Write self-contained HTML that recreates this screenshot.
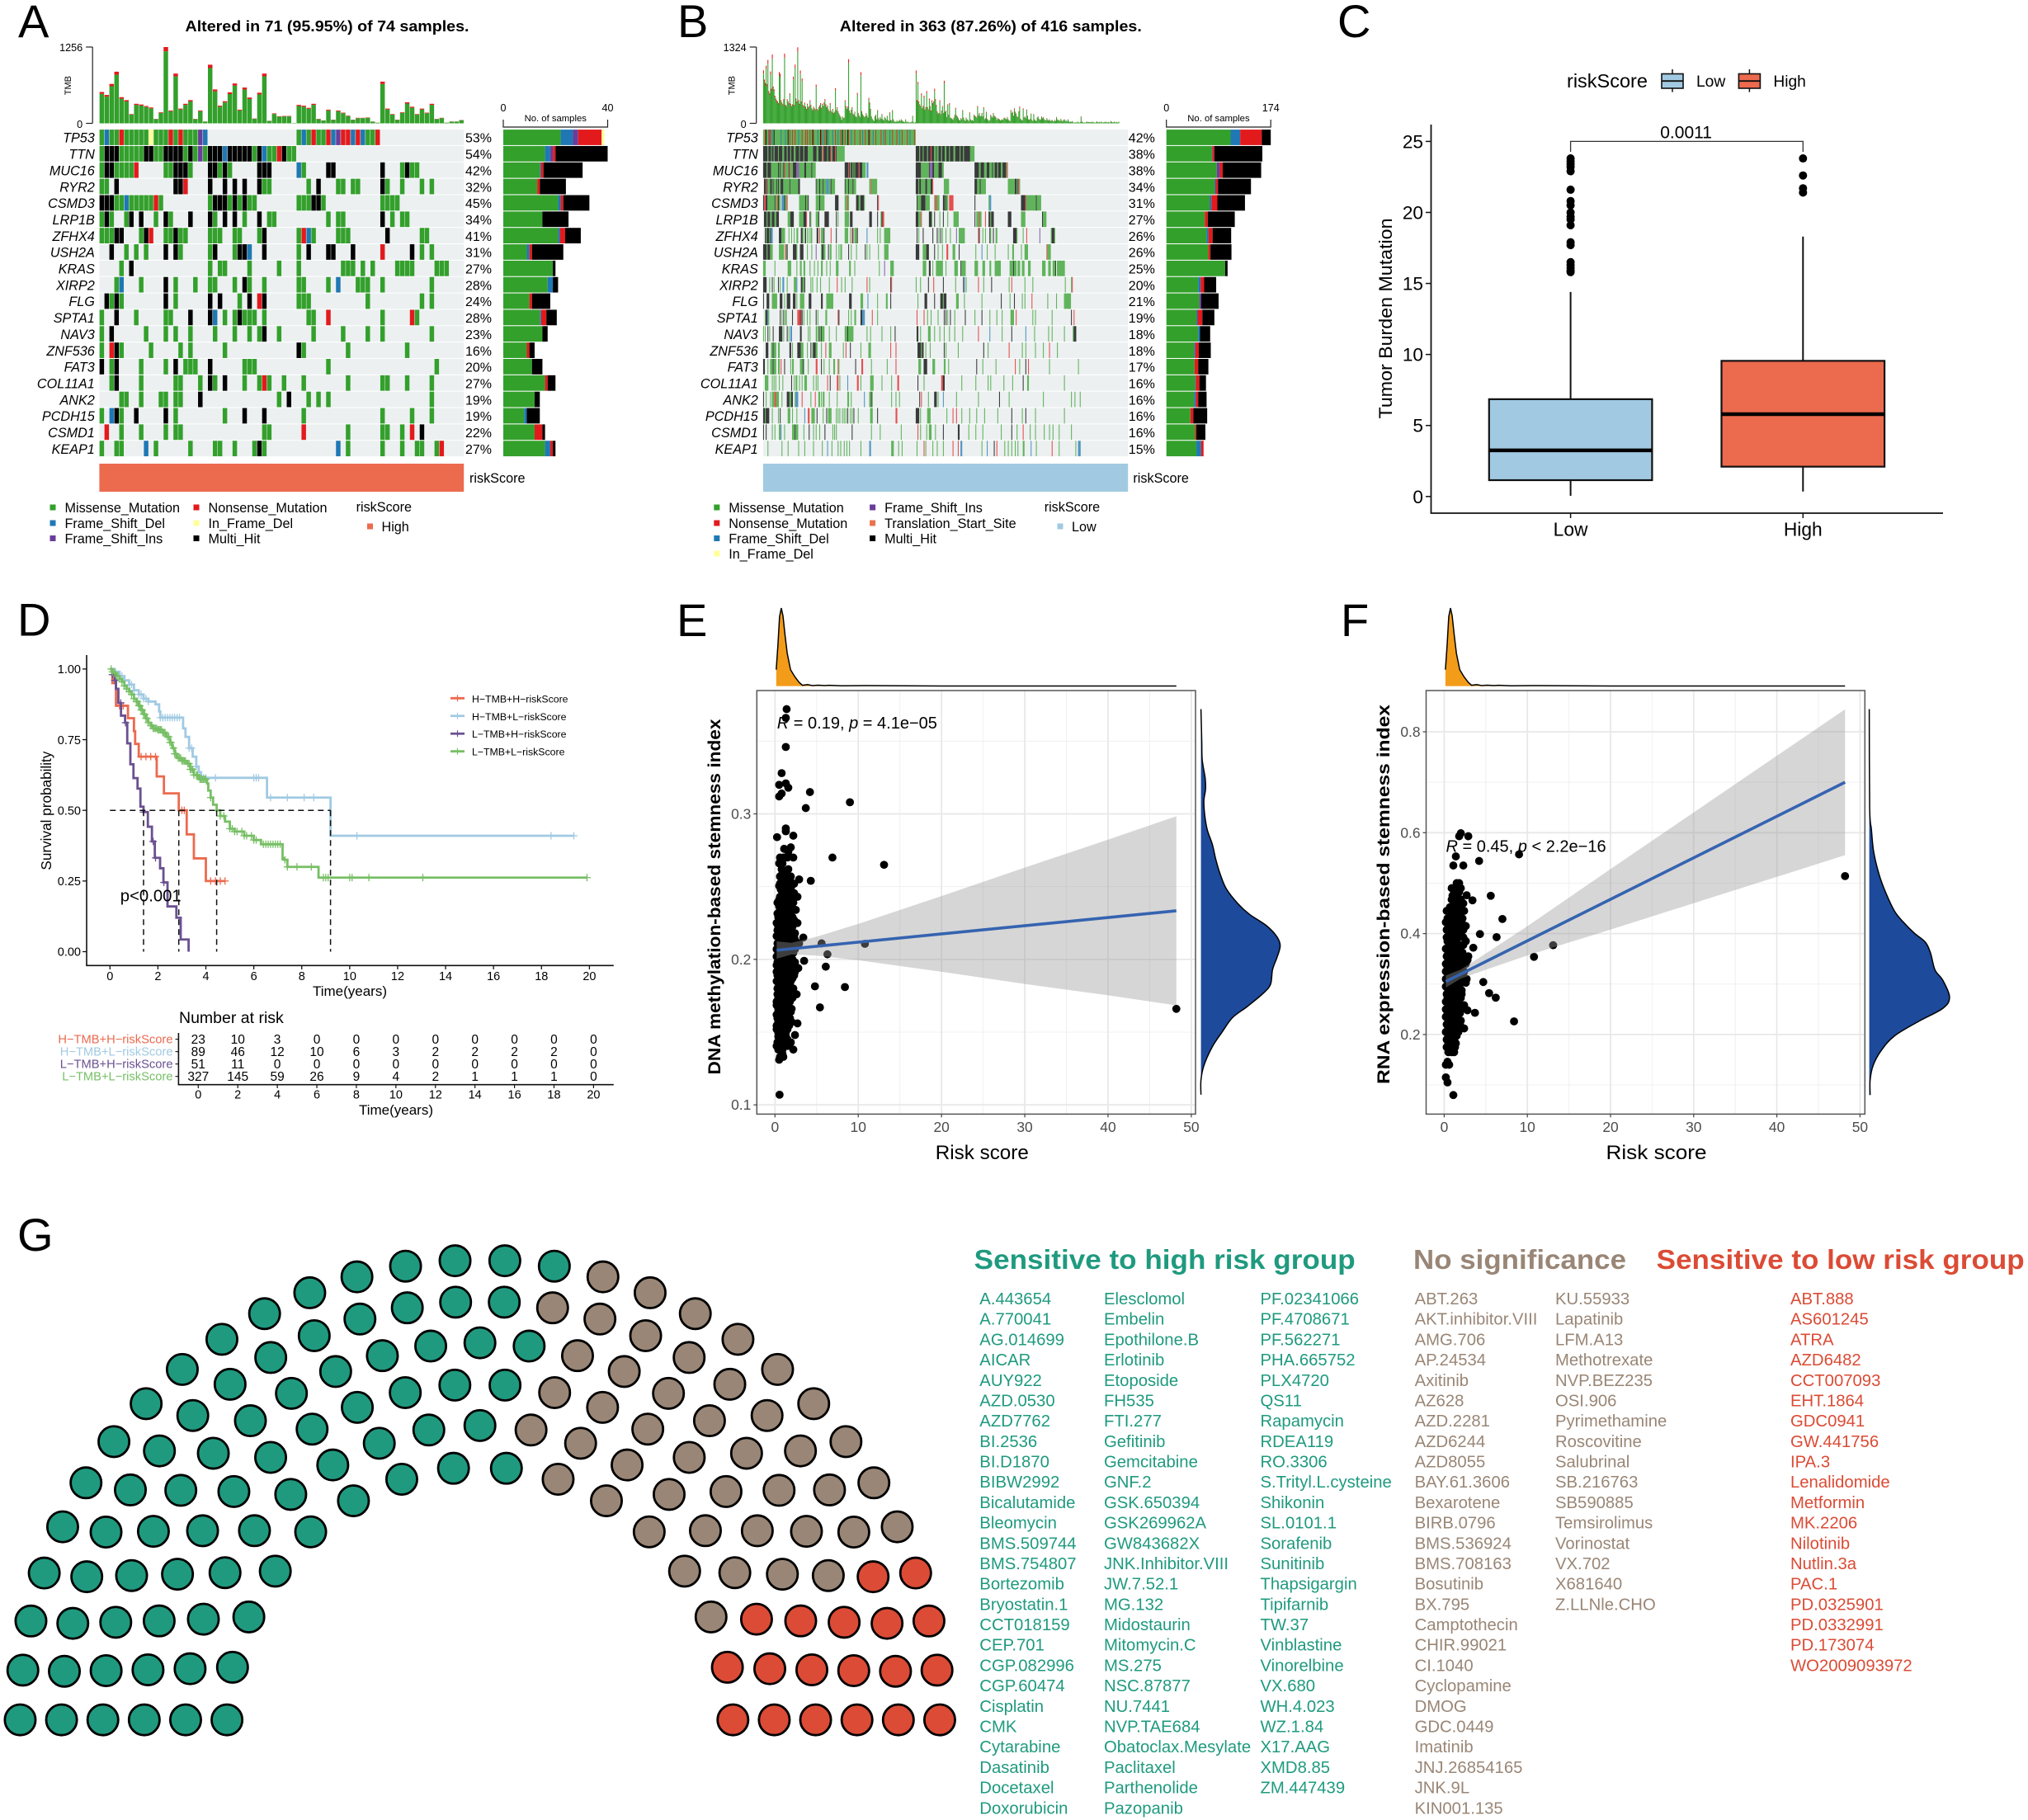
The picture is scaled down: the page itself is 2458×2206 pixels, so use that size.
<!DOCTYPE html>
<html lang="en">
<head>
<meta charset="utf-8">
<title>Tumor mutation burden and drug sensitivity figure</title>
<style>
html,body{margin:0;padding:0;background:#fff}
svg{display:block;font-family:"Liberation Sans",Arial,sans-serif}
</style>
</head>
<body>
<svg id="fig" xmlns="http://www.w3.org/2000/svg" width="2458" height="2206" viewBox="0 0 2458 2206">
<rect width="2458" height="2206" fill="#fff"/>
<g id="pA"></g>
<g id="pB"></g>
<g id="pC"></g>
<g id="pD"></g>
<g id="pE"></g>
<g id="pF"></g>
<g id="pG"></g>
</svg>
<script>
/* ---------- shared data ---------- */
const genes = ["TP53","TTN","MUC16","RYR2","CSMD3","LRP1B","ZFHX4","USH2A","KRAS","XIRP2","FLG","SPTA1","NAV3","ZNF536","FAT3","COL11A1","ANK2","PCDH15","CSMD1","KEAP1"];
const mutationColors = {M:"#33A02C",D:"#1F78B4",I:"#6A3D9A",N:"#E31A1C",F:"#FFFF99",T:"#E8734E",H:"#000000"};

/* ---------- panel A data ---------- */
const aPercent = [53,54,42,32,45,34,41,31,27,28,24,28,23,16,20,27,19,19,22,27];
const aRows = [
"M0 D1 M2-3 N4 M5-9 F10 M11-13 N14 M15 N16 M17-19 I20 D21 M40 D41 M42 N43 M44-45 N46 D47 I48 N49-50 D51 N52 D53 M54-55 N56",
"M0 H1-3 M4-8 H9-10 M11-12 H13-16 M17 H18 M19 I20 M21 H22-24 D25 H26-30 M31 H32 D33 M34-35 N36 H37 M38-39",
"M0 H1-2 M3-6 N7 M13-14 H15-17 M18 H22-23 M24 H25 M26 H32-34 D40 M41 H46-47 H57 M61 H62 M63-64",
"M0-1 H3 H15-16 N17 H22 H25 H27 H29 H32 M33-34 M42 H44 M48-49 M51-52 H57 M58 M61 M65 M67",
"H0-2 M3-4 D5 M6-10 N11 M12 M22 H23-25 M26 H27 M28 H29 M30-31 M40-42 H43-44 M45 M57-60",
"M0 H1 M2 M5 H6 H8 M11 H13 M14 H18 H22 M23 H25 H27 M29 H32 M34-35 M46 M48-49 H57 M59 M61-62",
"M0-2 H3-4 M8 H9 N10 M13-14 H15 M16-17 M22-24 M27-28 M32 H33 M40 N41 D42 M43 M48-50 H58 M65-66",
"H2 M5 M7 M9 H13 H15 M16 M22 H23 M27 H28-29 D30 H33 M40 H42 H46-47 H51 N57 H63 M65 M67",
"M4 H6 M22 M24-25 M30 M36 M40 M49-51 M53 M55 M60-63 M68-70",
"M3 D4 M8 H13 M15 M19 M22-23 M27 H29 M30 M33 M40-41 M46 D48 M52-54 M57 M67",
"H1 M2 H3 M4 H13 M15 H22 H24 M28 H30 N32 H33 M40-42 M54 M65 M67",
"M0 H3 M7 M13-14 H18 H22 D23 M25 M27 H28 M29-31 M33 M42-43 N46 M57 N63 M64",
"M0 H2 M9 M13 M15 M18 M23 M27 M30 M32 H33 M36 M43 M49 M54 M57 M67",
"M0 N2 H3 M4 M10 M16 M18 M25 H40 M41 M50 M62",
"H0 M2 H3 M8 M13 H15 M17-19 H22 M29-31 M46 M68",
"M2 H3 M8 M15-16 M20 H22 M23 H25 M29 M32 N33 M34 M37 M41 M50 M57-58 M62 M67",
"M4-5 M8 M12-13 M15-16 H20 M36 H38 M42 M44 M46 M67",
"M0 D2 H3 M4 H7 H13 M15 M25 H29 H33 M41 M57 M63 M67",
"N1 M4 M8 M13 M15-16 M33-34 N41 M50 M57-58 M61 N63 H65",
"M0 M3-4 D9 M11 M18 M23-24 M27 M31 H32 M33 D48 M50 M57 M61 M64-65 M68 N69"
];
const aTmb = [516,467,649,850,431,382,152,322,310,285,261,73,182,1256,212,819,243,322,382,73,212,30,965,558,291,364,510,656,225,589,425,79,504,819,42,164,115,121,121,6,303,291,255,322,73,49,225,61,212,176,127,61,91,91,97,30,12,686,243,152,61,182,346,273,152,243,176,322,73,91,12,30,30,55];
const aTmbNonsense = [30,28,38,50,25,22,9,18,18,16,15,4,10,70,12,46,14,18,22,4,12,2,55,32,17,20,28,36,13,33,24,5,28,46,2,10,6,7,7,0,18,17,15,18,4,3,13,4,12,10,7,4,6,5,6,2,1,38,14,9,4,10,20,16,9,14,10,18,4,5,1,2,2,3];
const aBarMissense = [22,16,14,13,21,15,21,9,19,17,10,14,15,9,11,16,12,8,12,16];
const aBarDel = [4.7,2,0.4,0,1,0,0.7,1,0,2,0,0.5,0,0,0,0,0,1,0,2];
const aBarIns = [2,1,0,0,0,0,0,0,0,0,0,0,0,0,0,0,0,0,0,0];
const aBarNonsense = [9,1,1,1,1,0,2,1,0,0,1,2,0,1,0,1,0,0,3,1];
const aBarInFrame = [1,0,0,0,0,0,0,0,0,0,0,0,0,0,0,0,0,0,0,0];
const aBarMulti = [0,20,15,10,10,10,6,12,1,2,7,4,2,2,4,3,2,5,1,1];

/* ---------- panel B data ---------- */
const bPercent = [42,38,38,34,31,27,26,26,25,20,21,19,18,18,17,16,16,16,16,15];
const bRows = [
"M0-173 N2 H3 N6 I7 N8 D10 H12 D20 D25 H28 N30 N33 N36 D40 N44 N48 N50 N53 H56 N57 D62 H65 N66 D68 N70 H72 D74 D79 N82 D85 N88 H90 N93 H96 N97 D100 N104 N110 D113 N116 H120 N121 D125 N128 N134 D137 N139 D144 N147 N152 D155 N158 N164 D167 N172",
"H0-4 M5 H6-8 M9 H10-11 M12 H13-16 M17 H18-21 M22-23 H24-26 M27 H28-30 M31 H32-34 M35-36 H37-40 M41 H42-45 M46 H47-50 M51-56 H57-60 M61-62 H63-66 M67 N68 H69-72 M73 H74-76 N77 M78 H79-81 N82 H83 M84-92 H174-177 M178 H179-181 M182 H183-186 M187 H188-190 N191 H192-194 M195-196 H197 M198-199 H200-202 M203 H204-206 M207-208 H209-211 M212 H213-216 M217-218 H219-223 M224 H225-227 M228 H229-235 M236-240",
"H0-3 M4 H5-8 M9-16 H17 M18 H19 M20-22 H23 N24 M25-28 H29 N30 M31-33 H34-37 I38-40 M41-46 H47-48 M49-54 H55 M56-59 H93-96 N97 H98 M99 H100-101 M102 H103 M104 H105-108 N109 H110-112 M113-116 D118-119 H174-179 M180-188 H189 I190-192 H193-194 M195-199 H200-203 M204-205 H241-245 M246-247 H248-251 M252-254 H255-257 M258-260 H261 M262-263 H264-266 M267 H268-270 M271-272 H273-276 M277 N278",
"H1-2 N3 H4 M5-7 H8-9 M10 H11 M12-14 H15 M16 H17 M18-19 H20-22 M23-29 H30 M31-39 H40-41 H60 M61-63 H64 M65-67 H68 M69-71 D72-74 M75-76 H77 M78-81 H93 M94-96 H97 M98-101 H102 M103-105 M121-122 N123 M124-129 H174-176 M177 H178-179 M180-184 H185-186 M187-190 H191-192 N193 M206-211 H241-243 M244-246 H247 M248-253 M279-286 H287-288 M289 H290 N291 M292",
"H0 N1-2 H3-4 M5-12 H13 M14-15 N16 H17 M18-19 D21-23 H24 M25-26 N27 M41-47 H48 M49-50 H51 M60-63 H64 M65-69 H82-85 M93-95 N96 M97 H106-108 M109-110 H111-114 M115 H130 N131 H175 M176-179 H180-184 M185-189 M195 N196-197 M198-200 H205-206 M207 H208 M209-210 N212-216 H241 M257 D258-259 H294-298 N299 M300-310 H311 M312-316",
"H1-3 M4 H5-7 M8-9 H10-12 M13-14 H15-17 M28-30 H31-34 M41-45 H46-48 N49 H53 M54 M60-62 H63 H70-74 H83 M85 M93-97 H99-101 H121-123 H130 M134 H135 N136-137 H174-176 M177-179 N180 H189-191 M192 H195 M201 H205 M210 M217-222 H241 M243-245 N246 M247-248 N253 H257-258 M259 H260-262 H279-282 M294-298 H318 M319-322",
"H2 M3 H4-6 M7 H8 D9-10 H18-20 M21-24 M29 M32 M35 M38-39 H43-44 M45 M47 H48 M50 M52 M54-55 H61-62 N64 M66-68 H69 N77 H83 M93-96 M99 N101 H102 M104-106 H107 D118 M130 M133 M138-144 H175 M177 H182 H193 H198 M200 H202 M204 M208 M213 I220 M223-229 N245 H246 M250 M253 H258 M259 H262 M265-266 H285-288 M289 M296 N300 I315 M328 H329-331 M332",
"H0-3 M4 H5-7 M8-10 M18-23 N25 M26 H27 H34-37 M38 H42-45 M50 M55 I60 M66 H67-68 M69-70 H74 M76-77 M83 M86 M88-89 H97 M100 M106 H116 M118 M121 M131 M138-142 H174-177 M182-185 H186-188 H195 M199 M204 N209-210 M216-218 H223 M242 D249 M255 M264 M279 M284-285 M294 M298-301 N323 M324-327",
"M0-2 M13 M28-31 M38 M42-43 M46-47 M53 M58 M62 M66-67 M72 M76 M83-85 M98-99 M104 M132 I138 M145-148 M182-185 H189-190 M193 M197-204 M208 M218-221 H225 M226-230 M241-244 M250-252 M258-259 M264-270 M281-284 H285 M286-288 M290-292 M295-297 M302-304 M318-321 M325-327 M330-332 H333 M335-343",
"H0-3 M7 H10 M12 H17 M19 D22-23 M27 M35-37 D38 H43-44 M45-46 H47 M54 M56 M61 M65 M75 N84 M89 M93 M101 N118 M121 H145 N146 M174 M179 H188 N194 H205 M219 H228 D229 M231 N245 M251 H260 M280 N283 M298 M307 M344 M351 N352",
"H0 H4-6 M10-15 H19-21 M24 H27-30 H34-36 M38 M42-46 H52-54 H66-67 M72-79 H98-100 M111-113 D119 M130 M140-141 H145 M176 H184-186 H195 H202-204 M205 H206-208 M220-222 M229 M249 H271 M281 H286 M295 M298 N306 M324 M334 M343-350",
"M2 H3-4 D5 M6 H19 M21 H23 M25-26 H33 N39-41 H42 N43 H44 M46 M50 M53 H60 M62 M71-72 N85 H86 M97 M100 M104-105 H111-112 D113-115 N124 M130 N175 N183 M187 M191 M199 H206 H208 M210 H213 M218 H230 M241 H249 M258 M266 M272 M282-285 N288 M307 M310 M329 H351 N354",
"M0 M2 H5 M7 H11 H18-21 M23 H27 M29 D31-32 H42-43 M51 M53 M60-61 H63 M64-65 H66 M67-69 M75 M83 M93-95 H96 M97-102 M118 M122 M135 M145 H150 H175-176 M179 M188-190 M195 M201 M206 M212 M218 M227 N245 D258 M272 H283 D299 M309 M325 M329 M343 M353 H354-356",
"H3-5 M9-10 H11 M12-14 M17-18 H30-31 M33 H39-42 M43-45 M50 H54 M56 H57-59 M60-61 M66 N71 M75-77 M91 N94 H99 M111 M120-122 N145 N151 H176-179 M180 H181-182 M185 M190 H206 M208 M222 H251 M256 N280 M295 M299 M310 M319 N326 M335",
"H0-1 M5 M8-10 H11 M12-14 M17-18 N20 H24 M31 M33-34 M42-44 H45 M46 M51 N60-61 H66 M69 M75 M80-81 N85 M86 H105 N112-113 M123 M141 N151 M177-179 H183-186 M193-195 M206-207 M211 H243 M250 M265 N287 M292 H299 N302 M326 M359",
"M2-5 M10 M12 M14 M18 M22 H32 M35 M37-38 M41 M44 M47-49 M57 M60 M62 N73 H76 N84-85 M87 D96 N107-108 M111 M122-125 M135 M146 N153-154 H176 M183 N203-204 H205-206 M226 M242 M256 M259 M274 M284 H296 M301-302 M343",
"H0 M3 M8 M10-12 N13-14 M15-17 M21 H27-29 M30-31 H32-33 M36 D37-39 N44 M54 N59 M63-64 M66 M68-69 M75 M84 M96-97 M100 D115 M121-122 H123 M124 M146 M151 M155 H178 N180 M188 H195-197 M199 D205 M220 M245 H269 M280 M319 M351 M355 M361",
"H0-1 M2 H3-6 M10 M17 H19 M28-30 M33 M38 D47 N51-52 M55-58 H61 M68 H72 M74-77 M83 M85 M87 M90 M92 M94 H96 M99 M101 H103 M108 M122-124 H130 N151-152 H174-177 M179 M187-190 M209 N216 N220 M226 M235 M243 M252 M267 H283 M295 H299 M310 M343",
"H0 H3 M10 M13 M18-19 D20 M24 M33-35 H36 M37-39 M46 H52 M57 M60 M64 H70 M79 M81 M83 H101 M123 M133 M157 N176 M179 M186 M189-191 M196 H205 H222-223 M234 M242 M250 M271 H283 M289 N296 M304 M310 M320 M326 M330 M337 M351",
"M5 M21 M28 M40 M47 M57 M67 D73 M78 M85 M88 M92 M95 M98 M111 D121-122 M146-148 M154 M158 M175 N183 M185 M193 M198 M205 N216 N222 D225-226 M249 D255 H263 N266 M275 M279 M283 M287 M290 M296-297 D305 M311 N329 M337 M356 D359-361"
];
const bTmb = [920,760,700,1000,680,1100,560,520,900,600,1195,640,590,480,430,400,380,350,890,860,400,360,330,420,1210,320,300,420,380,350,520,340,300,330,810,320,1020,430,380,1320,
400,340,917,380,778,320,300,360,290,250,340,280,300,400,320,260,230,290,260,240,672,250,230,280,310,350,270,340,300,360,420,330,280,310,240,210,350,220,190,250,
180,200,610,230,280,210,170,140,110,60,120,90,100,400,300,250,290,1113,220,180,240,280,170,150,200,120,110,528,180,140,110,888,210,160,130,110,120,180,140,100,
440,360,250,120,80,60,40,120,150,70,230,90,60,110,80,160,70,50,110,90,60,130,60,40,190,60,50,230,70,40,30,20,50,30,40,60,40,70,50,30,
30,20,70,30,20,30,10,20,15,30,130,20,10,20,
917,400,720,380,330,300,520,260,300,480,240,280,560,280,240,430,300,220,400,350,380,600,420,320,210,170,180,400,160,220,300,180,740,200,220,110,330,150,350,100,
90,80,60,100,150,270,140,120,90,60,50,90,70,230,100,60,40,100,70,60,40,190,70,50,60,40,150,130,120,100,300,140,180,120,130,180,120,280,70,90,
200,80,60,40,60,150,120,100,180,130,120,100,60,90,80,70,50,60,70,60,90,100,80,70,110,70,50,40,230,180,200,130,260,200,170,120,110,210,290,80,
60,50,260,100,120,90,240,130,70,60,80,170,60,40,160,70,50,40,100,120,80,60,70,120,90,110,70,60,50,90,60,50,70,40,
50,60,40,30,60,40,110,70,50,60,40,80,50,30,60,70,40,50,30,70,40,20,30,25,40,20,10,15,20,10,30,20,10,25,120,30,20,10,15,10,25,30,20,25,20,15,30,20,25,15,10,20,35,15,20,25,15,30,20,10,25,15,30,20,15,25,20,10,40,25,15,20,30,15,20,25,10,30];
const bTmbNonsenseShare = 0.06;
const bBarMissense = [107,76,84,81,72,64,67,70,98,53,55,50,53,46,47,48,46,40,48,50];
const bBarDel = [16,0,0,0,3,0,3,0,0,4,0,2,3,2,0,1,3,0,0,8];
const bBarIns = [0,1,5,2,0,0,0,0,0,0,3,0,0,0,0,0,0,0,0,0];
const bBarNonsense = [36,3,5,3,10,5,7,3.5,0,6,0,8,0,6,6,6,4,5,2,4];
const bBarInFrame = [0,0,0,0,0,0,0,0,0,0,0,0,0,0,0,0,0,0,0,0];
const bBarMulti = [15,80,64,55,46,45,31,35,4,20,29,20,17,20,17,11,14,23,15,0];

/* ---------- panel C data ---------- */
const boxGroups = ["Low","High"];
const boxQ1 = [1.15,2.1];
const boxMedian = [3.25,5.8];
const boxQ3 = [6.85,9.55];
const boxWhiskerLow = [0.05,0.35];
const boxWhiskerHigh = [14.4,18.3];
const boxOutliersLow = [23.8,23.6,23.4,23.2,22.9,21.6,20.8,20.5,20,19.7,19.5,19.1,17.9,17.7,16.5,16.3,16.1,15.9,15.8];
const boxOutliersHigh = [23.8,22.6,21.7,21.4];
const boxYTicks = [0,5,10,15,20,25];

/* ---------- panel D data ---------- */
const survNames = ["H\u2212TMB+H\u2212riskScore","H\u2212TMB+L\u2212riskScore","L\u2212TMB+H\u2212riskScore","L\u2212TMB+L\u2212riskScore"];
const hhTimes = [0,.1,.25,.75,1,1.05,1.2,1.95,2.25,2.87,3.2,3.5,4,4.8];
const hhSurv = [1,.95,.87,.826,.78,.735,.69,.62,.56,.5,.415,.33,.25,.25];
const hhCensor = [.4,.55,1.3,1.5,1.7,1.9,3,3.1,4.2,4.4,4.6,4.8];
const hlTimes = [0,.2,.4,.6,.8,1,1.2,1.4,1.6,1.9,2.05,2.1,3.05,3.15,3.3,3.45,3.6,3.7,3.8,6.55,9.2,19.35];
const hlSurv = [1,.99,.975,.96,.945,.925,.91,.895,.885,.875,.85,.828,.79,.76,.72,.69,.655,.635,.615,.545,.41,.41];
const hlCensor = [.4,.5,.6,.8,.9,1,1.2,1.3,1.4,1.5,1.6,2.1,2.2,2.3,2.4,2.5,2.6,2.7,2.8,2.9,3.3,3.4,3.6,3.9,4,4.4,6,6.1,6.2,6.7,7.4,8.1,8.5,10.3,18.4,19.35];
const lhTimes = [0,.1,.2,.25,.35,.46,.63,.72,.85,.98,1.15,1.27,1.4,1.58,1.75,1.87,2.09,2.23,2.4,2.77,2.95,3.28];
const lhSurv = [1,.98,.96,.93,.88,.835,.81,.737,.663,.614,.577,.513,.494,.442,.39,.332,.295,.245,.16,.12,.043,0];
const lhCensor = [.1,.2,.45,.65,1.4,1.8,1.9,2.25];
const llTimes = [0,.1,.2,.3,.4,.5,.6,.7,.8,.9,1,1.1,1.2,1.3,1.4,1.5,1.6,1.7,1.8,2,2.2,2.35,2.5,2.6,2.7,2.8,3,3.2,3.35,3.5,3.7,4.05,4.1,4.2,4.3,4.45,4.6,4.8,5,5.2,5.6,6,6.3,7.2,7.25,7.4,8.7,19.9];
const llSurv = [1,.99,.985,.975,.965,.955,.94,.93,.92,.91,.895,.885,.87,.855,.84,.825,.81,.8,.79,.785,.775,.76,.74,.72,.7,.685,.675,.665,.645,.625,.61,.595,.57,.545,.52,.5,.48,.46,.435,.425,.41,.395,.38,.33,.325,.3,.262,.262];
const llCensor = [.05,.1,.2,.3,.4,.5,.6,.7,.8,.9,1,1.1,1.15,1.2,1.25,1.3,1.35,1.4,1.45,1.5,1.55,1.6,1.7,1.75,1.8,1.85,1.9,1.95,2,2.05,2.1,2.15,2.2,2.25,2.3,2.4,2.45,2.5,2.55,2.65,2.7,2.75,2.85,2.9,2.95,3,3.05,3.1,3.15,3.25,3.3,3.35,3.4,3.45,3.5,3.6,3.65,3.75,3.8,3.85,3.9,3.95,4,4.2,4.45,4.6,4.75,5,5.1,5.2,5.3,5.5,5.6,5.7,5.9,6,6.1,6.4,6.5,6.6,6.7,6.8,6.9,7,7.1,7.3,7.4,7.8,8.4,8.9,9,9.1,10,10.1,10.8,13.05,19.9];
const survMedians = [1.4,2.87,4.45,9.2];
const survXTicks = [0,2,4,6,8,10,12,14,16,18,20];
const survYTicks = [0,.25,.5,.75,1];
const riskHH = [23,10,3,0,0,0,0,0,0,0,0];
const riskHL = [89,46,12,10,6,3,2,2,2,2,0];
const riskLH = [51,11,0,0,0,0,0,0,0,0,0];
const riskLL = [327,145,59,26,9,4,2,1,1,1,0];

/* ---------- panels E and F data ---------- */
const topDensityRisk = [.15,.35,.55,.76,.96,1.2,1.47,1.87,2.38,2.88,3.3,3.9,4.5,5.2,6,6.5,8,10.8,13.1,20,48.2];
const topDensityValue = [.21,.52,.89,1,.9,.66,.42,.21,.12,.05,.01,.02,.006,.012,.006,.01,.004,.006,.005,.001,.001];
const eOutliers = [[1.4,.372],[1.3,.366],[1.3,.346],[.8,.328],[.5,.32],[1.3,.321],[1.6,.318],[.8,.314],[.5,.312],[4.2,.315],[9,.308],[3.7,.304],[1.3,.29],[1.3,.288],[.25,.284],[2.2,.285],[1.1,.276],[1.9,.277],[1.6,.274],[6.9,.27],[13.1,.265],[2.2,.27],[4.3,.254],[2.9,.255],[3.4,.215],[5.6,.211],[10.8,.2107],[6.3,.2035],[3.5,.199],[6.1,.195],[4.8,.1815],[8.4,.181],[5.4,.167],[48.2,.166],[2.7,.156],[2.4,.148],[2.2,.138],[.55,.107],[.5,.131],[.9,.135]];
const eBlobRows = [[.27,[.6,1,1.5]],[.266,[.5,.9]],[.262,[.8,1.6]],[.257,[.6,1,1.4,1.9]],[.252,[.6,1.1,1.6,2.3]],[.248,[.7,1.3,1.9]],[.243,[.6,1,1.5,2,2.7]],[.239,[.3,.8,1.3,2.2]],[.234,[.6,1.1,1.7,2.5]],[.229,[.4,.9,1.5,2.1]],[.225,[.2,.7,1.2,1.8,2.7]],[.22,[.3,.8,1.4,2]],[.216,[.2,.7,1.1,1.6,2.3]],[.211,[.3,.9,1.4,2,2.9]],[.207,[.2,.6,1.1,1.7,2.4]],[.202,[.2,.7,1.3,1.9]],[.198,[.3,.8,1.2,1.7,2.4]],[.194,[.4,.9,1.5,2.1,2.8]],[.189,[.3,.7,1.2,1.8,2.3]],[.185,[.2,.8,1.3,1.9]],[.18,[.3,.7,1.1,1.6,2.2]],[.176,[.3,.9,1.4,1.9,2.6]],[.171,[.2,.7,1.2,1.8]],[.166,[.4,.9,1.3,2]],[.162,[.2,.6,1.1,1.6]],[.157,[.4,.9,1.5,2]],[.152,[.2,.6,1,1.5]],[.147,[.4,.9,1.3]],[.143,[.3,.8,1.4,1.9]],[.138,[.4,.9]],[.133,[.6,1]]];
const eBlobFillRows = [[.2595,[.9,1.3]],[.2545,[.8,1.3,1.8]],[.2505,[.5,1,1.5,2]],[.2455,[.9,1.3,1.8,2.3]],[.241,[.5,1,1.6,1.9]],[.2365,[.5,1,1.5,2]],[.2315,[.3,.8,1.3,1.9]],[.227,[.6,1.1,1.7,2.3]],[.2225,[.4,1,1.5,2.1]],[.218,[.5,1,1.7,2.4]],[.2135,[.5,1,1.7,2.4]],[.209,[.4,.8,1.4,2]],[.2045,[.4,.9,1.5,2.2]],[.2,[.5,1,1.5,2.1]],[.196,[.2,.6,1,1.4,2]],[.1915,[.2,.6,1,1.6,2.4]],[.187,[.5,1,1.5,2.1]],[.1825,[.5,.9,1.4,1.8]],[.178,[.5,1,1.3,1.9]],[.1735,[.4,1,1.5,2.1]],[.1685,[.2,.6,1.1,1.6]],[.164,[.4,.9,1.3,1.9]],[.1595,[.3,.8,1.3,1.8]],[.1545,[.2,.6,1.1,1.7]],[.1495,[.4,.8,1.3]],[.145,[.5,1,1.5]],[.1405,[.2,.6,1.1,1.5]]];
const eBandRisk = [.2,2,5,10,20,30,40,48.2];
const eBandUpper = [.2124,.2114,.2156,.2244,.2435,.2631,.2823,.2984];
const eBandLower = [.2004,.2034,.2026,.1994,.1915,.1831,.1753,.1684];
const eLineRisk = [.2,48.2];
const eLineIndex = [.2063,.2334];
const eRightIndex = [.372,.35,.337,.3246,.317,.309,.299,.289,.279,.269,.259,.2486,.2385,.231,.2233,.2157,.2094,.2018,.193,.1828,.1765,.1676,.16,.15,.14,.127,.117,.107];
const eRightDensity = [0,.01,.016,.053,.058,.037,.048,.08,.144,.186,.24,.319,.463,.612,.824,.957,1,.963,.904,.878,.782,.585,.399,.266,.144,.037,0,0];

const fOutliers = [[48.2,.514],[13.1,.377],[10.8,.354],[9,.557],[8.4,.226],[7,.429],[6.3,.393],[6.2,.273],[5.6,.475],[5.4,.282],[4.7,.304],[4.3,.399],[4.2,.544],[3.7,.243],[3.5,.372],[3.4,.466],[2.8,.248],[2.4,.258],[2.4,.212],[2.7,.476],[2.9,.593],[2,.599],[1.8,.593],[2.3,.535],[1.1,.535],[1.4,.553],[1.1,.08],[.4,.105],[.2,.115],[.2,.14],[.6,.14],[.4,.146]];
const fBlobRows = [[.5,[1.5,1.8]],[.49,[.9,1.3,2]],[.475,[1,1.6]],[.46,[1.2,1.8,2.3]],[.445,[.3,.9,1.5,2.4]],[.43,[.4,1,1.6,2.2]],[.415,[.5,1.1,1.8,2.6]],[.4,[.6,1.2,2]],[.385,[.4,.9,1.5,2.6]],[.37,[.2,.8,1.3,1.9]],[.355,[.3,.9,1.6,2.3,2.9]],[.34,[.2,.7,1.2,1.9,2.6]],[.325,[.2,.6,1.1,1.7,2.4]],[.31,[.2,.8,1.4,2,2.7]],[.295,[.2,.7,1.2,1.8]],[.28,[.3,.9,1.5,2.1]],[.265,[.2,.6,1.1,1.7]],[.25,[.2,.8,1.3,1.9]],[.235,[.2,.6,1.1,1.6]],[.22,[.3,.8,1.3,1.9]],[.205,[.2,.7,1.2,1.7]],[.19,[.3,.8,1.2]],[.175,[.3,.7,1,1.3]],[.165,[.5,.9,1.2]]];
const fBlobFillRows = [[.4825,[1.2,1.8]],[.4675,[.9,1.5,2]],[.4525,[.7,1.2,1.7]],[.4375,[.7,1.3,1.9]],[.4225,[.2,.8,1.4,2.1]],[.4075,[.3,.9,1.5,2.3]],[.3925,[.3,.9,1.6,2.3]],[.3775,[.6,1.2,1.8,2.3]],[.3625,[.5,1.1,1.6,2.2]],[.3475,[.5,1,1.6,2.2,2.8]],[.3325,[.4,.9,1.5,2.1]],[.3175,[.5,1.1,1.7,2.3]],[.3025,[.5,1,1.5,2.1,2.6]],[.2875,[.5,1,1.6,2.1]],[.2725,[.4,.9,1.4,2]],[.2575,[.5,1,1.6,2]],[.2425,[.4,1,1.5,1.9]],[.2275,[.5,1,1.5,2]],[.2125,[.5,1,1.5,2.1]],[.1975,[.5,1,1.5]],[.1825,[.5,1,1.4]]];
const fBandRisk = [.2,2,5,10,20,30,40,48.2];
const fBandUpper = [.317,.3288,.3605,.4147,.528,.6402,.7525,.8445];
const fBandLower = [.293,.3108,.3285,.3567,.408,.4602,.5125,.5555];
const fLineRisk = [.2,48.2];
const fLineIndex = [.305,.7];
const fRightIndex = [.845,.65,.606,.562,.518,.482,.445,.423,.401,.383,.361,.328,.307,.274,.252,.226,.197,.168,.139,.11,.08];
const fRightDensity = [0,.005,.027,.055,.121,.203,.313,.423,.56,.698,.764,.819,.918,1,.918,.615,.313,.148,.049,.011,.011];

/* ---------- panel G data ---------- */
const seatRowSizes = [16,19,22,25,28,30];
const seatGroupCounts = [77,44,19];
const groupColors = ["#1F9A7F","#998676","#DB4B35"];
const drugsHigh1 = ["A.443654","A.770041","AG.014699","AICAR","AUY922","AZD.0530","AZD7762","BI.2536","BI.D1870","BIBW2992","Bicalutamide","Bleomycin","BMS.509744","BMS.754807","Bortezomib","Bryostatin.1","CCT018159","CEP.701","CGP.082996","CGP.60474","Cisplatin","CMK","Cytarabine","Dasatinib","Docetaxel","Doxorubicin"];
const drugsHigh2 = ["Elesclomol","Embelin","Epothilone.B","Erlotinib","Etoposide","FH535","FTI.277","Gefitinib","Gemcitabine","GNF.2","GSK.650394","GSK269962A","GW843682X","JNK.Inhibitor.VIII","JW.7.52.1","MG.132","Midostaurin","Mitomycin.C","MS.275","NSC.87877","NU.7441","NVP.TAE684","Obatoclax.Mesylate","Paclitaxel","Parthenolide","Pazopanib"];
const drugsHigh3 = ["PF.02341066","PF.4708671","PF.562271","PHA.665752","PLX4720","QS11","Rapamycin","RDEA119","RO.3306","S.Trityl.L.cysteine","Shikonin","SL.0101.1","Sorafenib","Sunitinib","Thapsigargin","Tipifarnib","TW.37","Vinblastine","Vinorelbine","VX.680","WH.4.023","WZ.1.84","X17.AAG","XMD8.85","ZM.447439"];
const drugsNone1 = ["ABT.263","AKT.inhibitor.VIII","AMG.706","AP.24534","Axitinib","AZ628","AZD.2281","AZD6244","AZD8055","BAY.61.3606","Bexarotene","BIRB.0796","BMS.536924","BMS.708163","Bosutinib","BX.795","Camptothecin","CHIR.99021","CI.1040","Cyclopamine","DMOG","GDC.0449","Imatinib","JNJ.26854165","JNK.9L","KIN001.135"];
const drugsNone2 = ["KU.55933","Lapatinib","LFM.A13","Methotrexate","NVP.BEZ235","OSI.906","Pyrimethamine","Roscovitine","Salubrinal","SB.216763","SB590885","Temsirolimus","Vorinostat","VX.702","X681640","Z.LLNle.CHO"];
const drugsLow1 = ["ABT.888","AS601245","ATRA","AZD6482","CCT007093","EHT.1864","GDC0941","GW.441756","IPA.3","Lenalidomide","Metformin","MK.2206","Nilotinib","Nutlin.3a","PAC.1","PD.0325901","PD.0332991","PD.173074","WO2009093972"];

/* ---------- helpers ---------- */
const NS = "http://www.w3.org/2000/svg";
function el(parent, tag, attrs, name) {
  const e = document.createElementNS(NS, tag);
  for (const k in attrs) e.setAttribute(k, attrs[k]);
  
  
  parent.appendChild(e);
  return e;
}
function txt(parent, str, x, y, size, name, o) {
  o = o || {};
  const a = {x: x, y: y, "font-size": size, fill: o.fill || "#000"};
  if (o.anchor) a["text-anchor"] = o.anchor;
  if (o.bold) a["font-weight"] = "bold";
  if (o.italic) a["font-style"] = "italic";
  if (o.rotate !== undefined) a.transform = "rotate(" + o.rotate + " " + x + " " + y + ")";
  if (o.len) { a.textLength = o.len; a.lengthAdjust = "spacingAndGlyphs"; }
  const e = el(parent, "text", a, name);
  e.textContent = str;
  return e;
}
function line(parent, x1, y1, x2, y2, stroke, w, name, dash) {
  const a = {x1: x1, y1: y1, x2: x2, y2: y2, stroke: stroke, "stroke-width": w};
  if (dash) a["stroke-dasharray"] = dash;
  return el(parent, "line", a, name);
}
function linear(d0, d1, r0, r1) { return v => r0 + (v - d0) * (r1 - r0) / (d1 - d0); }
function parseTokens(s) {
  return s.split(/\s+/).filter(Boolean).map(t => {
    const parts = t.slice(1).split('-').map(Number);
    return {type: t[0], a: parts[0], b: parts.length > 1 ? parts[1] : parts[0]};
  });
}
function slug(s) { return s.toLowerCase().replace(/[^a-z0-9]+/g, '-').replace(/^-|-$/g, ''); }
function panelLetter(parent, s, x, y) {
  txt(parent, s, x, y, 56, "panel-letter-" + s.toLowerCase());
}
function smoothSegments(pts) {
  let d = "";
  for (let i = 0; i < pts.length - 1; i++) {
    const p0 = pts[Math.max(i - 1, 0)], p1 = pts[i], p2 = pts[i + 1], p3 = pts[Math.min(i + 2, pts.length - 1)];
    const c1x = p1[0] + (p2[0] - p0[0]) / 6, c1y = p1[1] + (p2[1] - p0[1]) / 6;
    const c2x = p2[0] - (p3[0] - p1[0]) / 6, c2y = p2[1] - (p3[1] - p1[1]) / 6;
    d += "C" + c1x + " " + c1y + " " + c2x + " " + c2y + " " + p2[0] + " " + p2[1];
  }
  return d;
}

/* ---------- oncoplot ---------- */
function drawOncoplot(p, c) {
  const rowY = i => 157.1 + i * 19.85, rowH = 18.8;
  const sx = linear(0, c.n, c.x0, c.x0 + c.w);
  const cell = c.w / c.n;
  const gap = c.n < 100 ? 0.5 : 0;
  txt(p, c.title, c.titleX, 38, 18, "oncoplot-title", {bold: true, len: c.titleLen});
  /* TMB */
  const ty = linear(0, c.tmbMax, 149.5, 57);
  line(p, c.axisX, 57, c.axisX, 149.5, "#222", 1.2, "tmb-axis-line");
  line(p, c.axisX - 8, 57, c.axisX, 57, "#222", 1.2, "tmb-axis-tick");
  line(p, c.axisX - 8, 149.5, c.axisX, 149.5, "#222", 1.2, "tmb-axis-tick");
  txt(p, String(c.tmbMax), c.axisX - 12, 62, 12.6, "tmb-tick-label", {anchor: "end"});
  txt(p, "0", c.axisX - 12, 155, 12.6, "tmb-tick-label", {anchor: "end"});
  txt(p, "TMB", c.axisX - 26, 103.6, 11, "tmb-axis-title", {anchor: "middle", rotate: -90});
  c.tmb.forEach((v, i) => {
    const red = c.tmbRed ? c.tmbRed[i] : v * c.tmbShare;
    el(p, "rect", {x: sx(i) + gap / 2, y: ty(v - red), width: cell - gap, height: ty(0) - ty(v - red), fill: mutationColors.M}, "tmb-bar");
    el(p, "rect", {x: sx(i) + gap / 2, y: ty(v), width: cell - gap, height: ty(v - red) - ty(v), fill: mutationColors.N}, "tmb-bar-nonsense");
  });
  /* matrix */
  genes.forEach((g, r) => {
    const y = rowY(r);
    el(p, "rect", {x: c.x0, y: y, width: c.w, height: rowH, fill: "#ECF0F1"}, "row-background-" + slug(g));
    parseTokens(c.rows[r]).forEach(t => {
      if (c.n < 100) {
        for (let i = t.a; i <= t.b; i++) {
          el(p, "rect", {x: sx(i) + gap / 2, y: y, width: cell - gap, height: rowH, fill: mutationColors[t.type]}, "mutation-cell");
        }
      } else {
        el(p, "rect", {x: sx(t.a), y: y, width: (t.b - t.a + 1) * cell, height: rowH, fill: mutationColors[t.type], "fill-opacity": c.cellOpacity}, "mutation-cell");
      }
    });
    txt(p, g, c.labelX, y + 15.6, 16.2, "gene-label-" + slug(g), {anchor: "end", italic: true});
    txt(p, c.pct[r] + "%", c.pctX, y + 15.6, 16, "percent-label", {});
    /* right stacked bars */
    const bx = linear(0, c.barMax, c.barX, c.barX + 126.5);
    let acc = 0;
    [["M", c.barM], ["D", c.barD], ["I", c.barI], ["N", c.barN], ["F", c.barF], ["H", c.barH]].forEach(pair => {
      const v = pair[1][r];
      if (v > 0) {
        el(p, "rect", {x: bx(acc), y: y, width: bx(acc + v) - bx(acc), height: rowH, fill: mutationColors[pair[0]]}, "sample-count-segment");
        acc += v;
      }
    });
  });
  /* right axis */
  const bx0 = c.barX, bx1 = c.barX + 126.5;
  txt(p, "0", bx0, 135, 12.6, "samples-axis-tick", {anchor: "middle"});
  txt(p, String(c.barMax), bx1, 135, 12.6, "samples-axis-tick", {anchor: "middle"});
  txt(p, "No. of samples", (bx0 + bx1) / 2, 147, 11.3, "samples-axis-title", {anchor: "middle"});
  el(p, "path", {d: "M" + bx0 + " 145V154H" + bx1 + "V145", fill: "none", stroke: "#222", "stroke-width": 1.2}, "samples-axis-bracket");
  /* annotation */
  el(p, "rect", {x: c.x0, y: 562, width: c.w, height: 34, fill: c.annColor}, "risk-score-annotation-bar");
  txt(p, "riskScore", c.annLabelX, 585, 16.2, "risk-score-annotation-label");
  /* legend */
  c.legend.forEach(item => {
    el(p, "rect", {x: item.x - 3.5, y: item.y - 3.5, width: 7, height: 7, fill: mutationColors[item.t]}, "legend-swatch");
    txt(p, item.s, item.x + 14.5, item.y + 5.8, 16.2, "legend-entry-" + slug(item.s));
  });
  txt(p, "riskScore", c.riskX, 620, 16.2, "legend-title");
  el(p, "rect", {x: c.riskSwatch - 3.5, y: 634.5, width: 7, height: 7, fill: c.annColor}, "legend-swatch");
  txt(p, c.riskName, c.riskSwatch + 14, 644, 16.2, "legend-entry-" + slug(c.riskName));
}
const pA = document.getElementById("pA");
panelLetter(pA, "A", 22, 45);
drawOncoplot(pA, {
  n: 74, x0: 120.4, w: 441.8, title: "Altered in 71 (95.95%) of 74 samples.", titleX: 224.5, titleLen: 344,
  tmb: aTmb, tmbRed: aTmbNonsense, tmbMax: 1256, axisX: 112.2, rows: aRows, labelX: 114.8, pct: aPercent, pctX: 564,
  barX: 610, barMax: 40, barM: aBarMissense, barD: aBarDel, barI: aBarIns, barN: aBarNonsense, barF: aBarInFrame, barH: aBarMulti,
  annColor: "#EC6A4E", annLabelX: 569, riskX: 431.6, riskSwatch: 448.5, riskName: "High",
  legend: [{t:"M",s:"Missense_Mutation",x:64,y:615},{t:"D",s:"Frame_Shift_Del",x:64,y:634},{t:"I",s:"Frame_Shift_Ins",x:64,y:652.5},
           {t:"N",s:"Nonsense_Mutation",x:238,y:615},{t:"F",s:"In_Frame_Del",x:238,y:634},{t:"H",s:"Multi_Hit",x:238,y:652.5}]
});
const pB = document.getElementById("pB");
panelLetter(pB, "B", 821, 45);
drawOncoplot(pB, {
  n: 416, x0: 924.9, w: 442.3, title: "Altered in 363 (87.26%) of 416 samples.", titleX: 1017.8, titleLen: 366,
  tmb: bTmb, tmbShare: bTmbNonsenseShare, tmbMax: 1324, axisX: 916.7, rows: bRows, labelX: 918.8, pct: bPercent, pctX: 1367.8, cellOpacity: 0.76,
  barX: 1413.7, barMax: 174, barM: bBarMissense, barD: bBarDel, barI: bBarIns, barN: bBarNonsense, barF: bBarInFrame, barH: bBarMulti,
  annColor: "#A1CAE2", annLabelX: 1373.4, riskX: 1265.7, riskSwatch: 1285, riskName: "Low",
  legend: [{t:"M",s:"Missense_Mutation",x:868.8,y:615},{t:"N",s:"Nonsense_Mutation",x:868.8,y:634},{t:"D",s:"Frame_Shift_Del",x:868.8,y:652.5},{t:"F",s:"In_Frame_Del",x:868.8,y:671},
           {t:"I",s:"Frame_Shift_Ins",x:1057.6,y:615},{t:"T",s:"Translation_Start_Site",x:1057.6,y:634},{t:"H",s:"Multi_Hit",x:1057.6,y:652.5}]
});

/* ---------- panel C ---------- */
(function () {
  const p = document.getElementById("pC");
  panelLetter(p, "C", 1621, 45);
  const y = linear(0, 25, 601.8, 171.4);
  const x = i => [1903.6, 2185.3][i];
  const half = 98.8;
  const fills = ["#A1CAE2", "#EC6A4E"];
  const outliers = [boxOutliersLow, boxOutliersHigh];
  txt(p, "riskScore", 1899, 106, 23.5, "legend-title");
  [[2014, "Low"], [2107.4, "High"]].forEach((k, i) => {
    line(p, k[0] + 13, 84, k[0] + 13, 111.6, "#111", 1.5, "legend-key-whisker");
    el(p, "rect", {x: k[0], y: 89.5, width: 26, height: 17.5, fill: fills[i], stroke: "#111", "stroke-width": 1.6}, "legend-key-box");
    line(p, k[0], 98.2, k[0] + 26, 98.2, "#111", 1.8, "legend-key-median");
    txt(p, k[1], k[0] + 42, 105, 19.2, "legend-entry-" + k[1].toLowerCase());
  });
  line(p, 1734.5, 151, 1734.5, 622, "#111", 1.8, "y-axis-line");
  line(p, 1733.6, 622, 2355, 622, "#111", 1.8, "x-axis-line");
  boxYTicks.forEach(t => {
    line(p, 1728, y(t), 1734.5, y(t), "#111", 1.5, "y-axis-tick");
    txt(p, String(t), 1725, y(t) + 8, 22.6, "y-tick-label", {anchor: "end"});
  });
  txt(p, "Tumor Burden Mutation", 1687, 386, 22.5, "y-axis-title", {anchor: "middle", rotate: -90, len: 243});
  boxGroups.forEach((g, i) => {
    line(p, x(i), y(boxWhiskerLow[i]), x(i), y(boxQ1[i]), "#111", 2, "box-whisker-lower-" + slug(g));
    line(p, x(i), y(boxQ3[i]), x(i), y(boxWhiskerHigh[i]), "#111", 2, "box-whisker-upper-" + slug(g));
    el(p, "rect", {x: x(i) - half, y: y(boxQ3[i]), width: half * 2, height: y(boxQ1[i]) - y(boxQ3[i]), fill: fills[i], stroke: "#111", "stroke-width": 2.2}, "box-" + slug(g));
    line(p, x(i) - half, y(boxMedian[i]), x(i) + half, y(boxMedian[i]), "#000", 4.5, "box-median-" + slug(g));
    outliers[i].forEach(v => el(p, "circle", {cx: x(i), cy: y(v), r: 5, fill: "#000"}, "box-outlier-" + slug(g)));
    line(p, x(i), 622, x(i), 628, "#111", 1.5, "x-axis-tick");
    txt(p, g, x(i), 649.6, 22.8, "x-tick-label-" + slug(g), {anchor: "middle"});
  });
  el(p, "path", {d: "M" + x(0) + " 184V171.4H" + x(1) + "V184", fill: "none", stroke: "#333", "stroke-width": 1.3}, "significance-bracket");
  txt(p, "0.0011", 2043.6, 167.4, 21, "significance-p-value", {anchor: "middle"});
})();

/* ---------- panel D ---------- */
(function () {
  const p = document.getElementById("pD");
  panelLetter(p, "D", 21, 770.5);
  const x = linear(0, 20, 133.3, 714.4);
  const y = linear(0, 1, 1153.5, 810.9);
  const colors = ["#EC6A4E", "#A1CAE2", "#6A5090", "#77BF65"];
  const series = [[hhTimes, hhSurv, hhCensor], [hlTimes, hlSurv, hlCensor], [lhTimes, lhSurv, lhCensor], [llTimes, llSurv, llCensor]];
  line(p, 105, 794, 105, 1170.3, "#111", 1.6, "y-axis-line");
  line(p, 104.2, 1170.3, 743.8, 1170.3, "#111", 1.6, "x-axis-line");
  survYTicks.forEach(t => {
    line(p, 100, y(t), 105, y(t), "#111", 1.3, "y-axis-tick");
    txt(p, t.toFixed(2), 98, y(t) + 5.2, 14.5, "y-tick-label", {anchor: "end"});
  });
  survXTicks.forEach(t => {
    line(p, x(t), 1170.3, x(t), 1175, "#111", 1.3, "x-axis-tick");
    txt(p, String(t), x(t), 1188, 14.5, "x-tick-label", {anchor: "middle"});
  });
  txt(p, "Survival probability", 62, 982.6, 17.6, "y-axis-title", {anchor: "middle", rotate: -90, len: 144});
  txt(p, "Time(years)", 424, 1207, 17, "x-axis-title", {anchor: "middle"});
  series.forEach((s, k) => {
    let d = "M" + x(s[0][0]) + " " + y(s[1][0]);
    for (let i = 1; i < s[0].length; i++) d += "H" + x(s[0][i]) + "V" + y(s[1][i]);
    el(p, "path", {d: d, fill: "none", stroke: colors[k], "stroke-width": 2.8}, "survival-curve-" + slug(survNames[k]));
    s[2].forEach(t => {
      let v = s[1][0];
      for (let i = 0; i < s[0].length; i++) if (s[0][i] <= t) v = s[1][i];
      line(p, x(t), y(v) - 4.5, x(t), y(v) + 4.5, colors[k], 1.3, "censor-mark");
      line(p, x(t) - 4.5, y(v), x(t) + 4.5, y(v), colors[k], 1.3, "censor-mark");
    });
  });
  line(p, x(0), y(.5), x(9.2), y(.5), "#111", 1.5, "median-survival-guide", "7 5");
  survMedians.forEach(t => line(p, x(t), y(.5), x(t), y(0), "#111", 1.5, "median-survival-drop", "7 5"));
  txt(p, "p<0.001", 145.8, 1092.5, 20.3, "log-rank-p-value");
  survNames.forEach((n, k) => {
    const ly = 846.3 + k * 21.47;
    line(p, 546, ly, 563, ly, colors[k], 2.8, "legend-line");
    line(p, 554.5, ly - 4, 554.5, ly + 4, colors[k], 1.2, "legend-censor");
    txt(p, n, 572, ly + 5, 12.3, "legend-entry-" + slug(n));
  });
  /* risk table */
  const tx = linear(0, 20, 240.3, 719.4);
  txt(p, "Number at risk", 217, 1240, 19.5, "risk-table-title");
  line(p, 216.4, 1252, 216.4, 1314.7, "#111", 1.6, "risk-table-y-axis");
  line(p, 215.6, 1314.7, 743.8, 1314.7, "#111", 1.6, "risk-table-x-axis");
  [riskHH, riskHL, riskLH, riskLL].forEach((arr, k) => {
    const ry = 1259.6 + k * 15.03;
    txt(p, survNames[k], 209.5, ry + 5, 14.7, "risk-table-label-" + slug(survNames[k]), {anchor: "end", fill: colors[k]});
    line(p, 212.5, ry, 216.4, ry, "#111", 1.1, "risk-table-tick");
    arr.forEach((v, i) => txt(p, String(v), tx(survXTicks[i]), ry + 5.5, 15.5, "risk-count", {anchor: "middle"}));
  });
  survXTicks.forEach(t => {
    line(p, tx(t), 1314.7, tx(t), 1319, "#111", 1.2, "risk-table-x-tick");
    txt(p, String(t), tx(t), 1331.5, 14.5, "risk-table-x-tick-label", {anchor: "middle"});
  });
  txt(p, "Time(years)", 480, 1351, 17, "risk-table-x-title", {anchor: "middle"});
})();

/* ---------- panels E, F ---------- */
function drawScatter(p, c) {
  const x = linear(0, 50, c.x0, c.x50);
  const y = linear(c.yA, c.yB, c.pyA, c.pyB);
  const top = 837, bot = 1350.4;
  const dotR = 4.9;
  el(p, "rect", {x: c.left, y: top, width: c.right - c.left, height: bot - top, fill: "#fff"}, "plot-background");
  for (let v = 5; v <= 45; v += 10) line(p, x(v), top, x(v), bot, "#F0F0F0", 1, "grid-minor-x");
  c.yMinor.forEach(v => line(p, c.left, y(v), c.right, y(v), "#F0F0F0", 1, "grid-minor-y"));
  for (let v = 0; v <= 50; v += 10) line(p, x(v), top, x(v), bot, "#E8E8E8", 1.8, "grid-major-x");
  c.yMajor.forEach(v => line(p, c.left, y(v), c.right, y(v), "#E8E8E8", 1.8, "grid-major-y"));
  c.outliers.forEach(q => el(p, "circle", {cx: x(q[0]), cy: y(q[1]), r: dotR, fill: "#000"}, "sample-point"));
  c.blob.forEach(row => row[1].forEach(v => el(p, "circle", {cx: x(v), cy: y(row[0]), r: dotR, fill: "#000"}, "sample-point")));
  let band = "";
  c.bandX.forEach((v, i) => { band += (i ? "L" : "M") + x(v) + " " + y(c.bandU[i]); });
  for (let i = c.bandX.length - 1; i >= 0; i--) band += "L" + x(c.bandX[i]) + " " + y(c.bandL[i]);
  el(p, "path", {d: band + "Z", fill: "#999", "fill-opacity": .4}, "regression-confidence-band");
  line(p, x(c.lineX[0]), y(c.lineY[0]), x(c.lineX[1]), y(c.lineY[1]), "#3563B0", 3.6, "regression-line");
  el(p, "rect", {x: c.left, y: top, width: c.right - c.left, height: bot - top, fill: "none", stroke: "#555", "stroke-width": 1.5}, "plot-frame");
  for (let v = 0; v <= 50; v += 10) {
    line(p, x(v), bot, x(v), bot + 4, "#444", 1.2, "x-axis-tick");
    txt(p, String(v), x(v), 1372, 17.4, "x-tick-label", {anchor: "middle", fill: "#4D4D4D"});
  }
  c.yLabels.forEach(v => {
    line(p, c.left - 4, y(v), c.left, y(v), "#444", 1.2, "y-axis-tick");
    txt(p, v.toFixed(1), c.left - 7, y(v) + 6, 17.4, "y-tick-label", {anchor: "end", fill: "#4D4D4D"});
  });
  txt(p, c.yTitle, c.yTitleX, c.yTitleY, 21.5, "y-axis-title", {anchor: "middle", bold: true, rotate: -90, len: c.yTitleLen});
  txt(p, "Risk score", c.xTitleX, 1405, 24.2, "x-axis-title", {anchor: "middle", len: c.xTitleLen});
  const stat = el(p, "text", {x: c.statX, y: c.statY, "font-size": 20, fill: "#000"}, "correlation-annotation");
  c.stat.forEach(pt => {
    const t = el(stat, "tspan", pt[1] ? {"font-style": "italic"} : {}, "correlation-annotation-part");
    t.textContent = pt[0];
  });
  /* top density */
  const ty = linear(0, 1, 831.6, 737);
  let area = "M" + x(topDensityRisk[0]) + " 831.6", curve = "";
  topDensityRisk.forEach((v, i) => {
    area += "L" + x(v) + " " + ty(topDensityValue[i]);
    curve += (i ? "L" : "M") + x(v) + " " + ty(topDensityValue[i]);
  });
  area += "L" + x(topDensityRisk[topDensityRisk.length - 1]) + " 831.6Z";
  el(p, "path", {d: area, fill: "#F39C1A"}, "risk-density-fill");
  el(p, "path", {d: curve, fill: "none", stroke: "#000", "stroke-width": 1.5}, "risk-density-curve");
  /* right density */
  const rx = linear(0, 1, c.rightBase, c.rightBase + c.rightWidth);
  const pts = c.rightY.map((v, i) => [rx(c.rightD[i]), y(v)]);
  const segs = smoothSegments(pts);
  const rArea = "M" + c.rightBase + " " + pts[0][1] + "L" + pts[0][0] + " " + pts[0][1] + segs + "L" + c.rightBase + " " + pts[pts.length - 1][1] + "Z";
  const rCurve = "M" + pts[0][0] + " " + pts[0][1] + segs;
  el(p, "path", {d: rArea, fill: "#1D4A9B"}, "stemness-density-fill");
  el(p, "path", {d: rCurve, fill: "none", stroke: "#000", "stroke-width": 1.5}, "stemness-density-curve");
}
const pE = document.getElementById("pE");
panelLetter(pE, "E", 820, 771);
drawScatter(pE, {
  left: 917.3, right: 1449, x0: 939.3, x50: 1443.9, yA: .1, yB: .3, pyA: 1339.2, pyB: 986.5,
  yMajor: [.1,.2,.3], yMinor: [.15,.25,.35], yLabels: [.1,.2,.3], outliers: eOutliers, blob: eBlobRows.concat(eBlobFillRows),
  bandX: eBandRisk, bandU: eBandUpper, bandL: eBandLower, lineX: eLineRisk, lineY: eLineIndex,
  yTitle: "DNA methylation-based stemness index", yTitleX: 873, yTitleY: 1087, yTitleLen: 431, xTitleX: 1190.3, xTitleLen: 113,
  statX: 941.8, statY: 883, stat: [["R",1],[" = 0.19, ",0],["p",1],[" = 4.1e\u221205",0]],
  rightBase: 1455.6, rightWidth: 96, rightY: eRightIndex, rightD: eRightDensity
});
const pF = document.getElementById("pF");
panelLetter(pF, "F", 1625, 771);
drawScatter(pF, {
  left: 1728.5, right: 2260.3, x0: 1750.4, x50: 2254.4, yA: .2, yB: .8, pyA: 1253.9, pyB: 887,
  yMajor: [.2,.4,.6,.8], yMinor: [.1,.3,.5,.7], yLabels: [.2,.4,.6,.8], outliers: fOutliers, blob: fBlobRows.concat(fBlobFillRows),
  bandX: fBandRisk, bandU: fBandUpper, bandL: fBandLower, lineX: fLineRisk, lineY: fLineIndex,
  yTitle: "RNA expression-based stemness index", yTitleX: 1684, yTitleY: 1084, yTitleLen: 460, xTitleX: 2007.5, xTitleLen: 122,
  statX: 1752.5, statY: 1032.5, stat: [["R",1],[" = 0.45, ",0],["p",1],[" < 2.2e\u221216",0]],
  rightBase: 2265.6, rightWidth: 97.3, rightY: fRightIndex, rightD: fRightDensity
});

/* ---------- panel G ---------- */
(function () {
  const p = document.getElementById("pG");
  panelLetter(p, "G", 21, 1516);
  const cx = 581.7, cy = 2084.6, r0 = 306.6, dr = 50.13;
  const seats = [];
  seatRowSizes.forEach((n, row) => {
    const rad = r0 + row * dr;
    for (let i = 0; i < n; i++) {
      const ang = Math.PI - i * Math.PI / (n - 1);
      seats.push({ang: ang, x: cx + rad * Math.cos(ang), y: cy - rad * Math.sin(ang)});
    }
  });
  seats.sort((a, b) => b.ang - a.ang);
  let idx = 0;
  seatGroupCounts.forEach((count, g) => {
    for (let k = 0; k < count && idx < seats.length; k++, idx++) {
      el(p, "circle", {cx: seats[idx].x, cy: seats[idx].y, r: 18.6, fill: groupColors[g], stroke: "#000", "stroke-width": 2.8}, "drug-seat");
    }
  });
  txt(p, "Sensitive to high risk group", 1180.7, 1538, 33.5, "group-title-high-risk", {bold: true, fill: groupColors[0], len: 462});
  txt(p, "No significance", 1713, 1538, 33.5, "group-title-no-significance", {bold: true, fill: groupColors[1], len: 258});
  txt(p, "Sensitive to low risk group", 2007.7, 1538, 33.5, "group-title-low-risk", {bold: true, fill: groupColors[2], len: 446});
  [[drugsHigh1, 1187.3, 0], [drugsHigh2, 1338, 0], [drugsHigh3, 1527.5, 0], [drugsNone1, 1714.6, 1], [drugsNone2, 1885, 1], [drugsLow1, 2170, 2]].forEach(col => {
    col[0].forEach((d, i) => {
      txt(p, d, col[1], 1581 + i * 24.69, 20.3, "drug-label-" + slug(d), {fill: groupColors[col[2]]});
    });
  });
})();
</script>
</body>
</html>
